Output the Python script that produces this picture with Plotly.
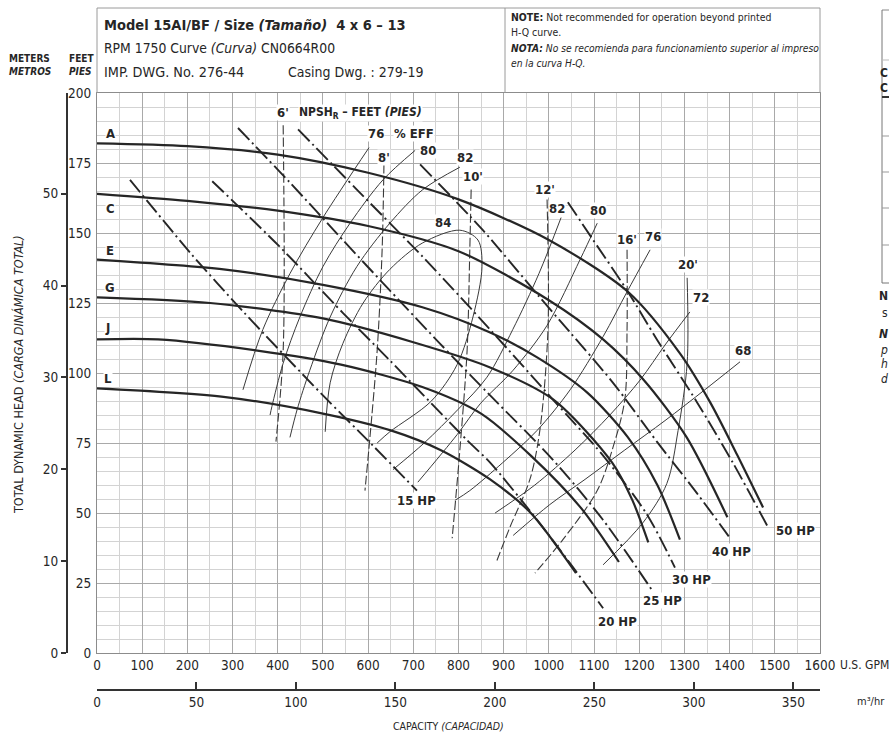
import plotly.graph_objects as go

FONT = "Liberation Sans Narrow, DejaVu Sans Condensed, Arial Narrow, sans-serif"
INK = "#262626"

# ---------------- data (U.S. GPM, feet) ----------------
A_q = [0, 200, 400, 600, 800, 1000, 1175, 1290, 1357, 1416, 1474]
A_h = [182, 181, 178, 171.5, 162, 147.5, 129, 107, 89.5, 71, 52]
C_q = [0, 200, 400, 600, 800, 1000, 1120, 1210, 1305, 1395]
C_h = [164, 161.5, 158, 152.5, 143.5, 126, 112, 97.5, 77, 48.5]
E_q = [0, 280, 500, 720, 870, 975, 1085, 1175, 1240, 1290]
E_h = [140.5, 137, 131.5, 123.5, 114.5, 105.5, 93, 77, 60, 40.5]
G_q = [0, 250, 500, 700, 870, 1010, 1140, 1185, 1220]
G_h = [127, 125, 119.5, 111, 102, 90.5, 68, 54.5, 39.5]
J_q = [0, 135, 355, 540, 720, 850, 960, 1070, 1155]
J_h = [112, 112, 108, 103, 95, 85.5, 70.5, 52, 32.5]
L_q = [0, 280, 500, 650, 760, 870, 960, 1060]
L_h = [94.5, 91.5, 85.5, 79.5, 72.5, 62, 50, 28.5]
impeller_labels = ["A", "C", "E", "G", "J", "L"]
impeller_label_q = [29, 29, 29, 29, 24, 24]
impeller_label_h = [185.7, 158.9, 143.9, 130.7, 116.1, 98.2]

# horsepower lines
HP15_q = [73, 206, 323, 500, 611, 708]
HP15_h = [169, 143, 122, 92, 74, 58]
HP20_q = [255, 405, 544, 648, 819, 870, 974, 1047, 1120]
HP20_h = [168.5, 145, 121.5, 104.5, 76, 68, 47.5, 32, 16]
HP25_q = [312, 427, 544, 648, 759, 870, 1009, 1120, 1228]
HP25_h = [187.5, 168, 147.5, 129.5, 110.5, 92, 69, 47.5, 22.5]
HP30_q = [445, 575, 721, 870, 1009, 1120, 1217, 1279]
HP30_h = [187, 165.5, 141.5, 115.5, 90.5, 70.5, 49.5, 30.5]
HP40_q = [715, 854, 980, 1047, 1142, 1239, 1328, 1401]
HP40_h = [174.5, 151, 127, 114.5, 96.5, 75.5, 57, 41]
HP50_q = [1042, 1098, 1173, 1239, 1328, 1407, 1483]
HP50_h = [161, 147.5, 129.5, 112, 89.5, 68, 45.5]
hp_labels = ["15 HP", "20 HP", "25 HP", "30 HP", "40 HP", "50 HP"]
hp_label_q = [706, 1151, 1252, 1315, 1405, 1545]
hp_label_h = [54.6, 11.1, 18.9, 26.1, 36.1, 43.9]

# efficiency lines (%)
EF76L_q = [602, 500, 427, 367, 323]
EF76L_h = [180.5, 155.5, 135.5, 115.5, 94]
EF80L_q = [704, 633, 560, 500, 449, 412, 387, 383]
EF80L_h = [179.5, 169, 153.5, 138, 120, 103.5, 88, 85]
EF82L_q = [803, 721, 648, 575, 516, 471, 443, 427]
EF82L_h = [173.5, 165.5, 153.5, 138, 120, 101, 87, 77]
EF84_q = [505, 516, 544, 589, 648, 721, 803, 843, 852, 832, 797, 740, 648, 620]
EF84_h = [79, 96.5, 110.5, 125, 137, 146.5, 151, 147.5, 138, 120, 103, 90, 79, 75]
EF82R_q = [1027, 978, 920, 863, 799, 724, 655]
EF82R_h = [155.5, 135.5, 115.5, 98.5, 87, 75, 65.5]
EF80R_q = [1107, 1069, 996, 921, 848, 797, 710]
EF80R_h = [153.5, 140.5, 117, 101, 89, 78, 61]
EF76R_q = [1224, 1173, 1120, 1047, 974, 898, 825, 792]
EF76R_h = [144, 129, 113, 94, 79.5, 68, 58, 54.5]
EF72_q = [1312, 1257, 1202, 1135, 1058, 969, 881]
EF72_h = [121.8, 110, 97.5, 85, 72.5, 60, 50]
EF68_q = [1423, 1345, 1257, 1168, 1080, 1002, 921]
EF68_h = [104, 94, 83, 72.5, 62, 53, 42]
eff_labels = ["76", "80", "82", "84", "82", "80", "76", "72", "68"]
eff_label_q = [617, 732, 814, 766, 1018, 1109, 1230, 1337, 1430]
eff_label_h = [185.7, 179.6, 177.1, 153.6, 158.9, 158.2, 148.6, 126.8, 108.2]

# NPSHr lines (feet)
N6_q = [412, 412, 396]
N6_h = [188.5, 108, 75.5]
N8_q = [635, 631, 620, 604, 593]
N8_h = [174.5, 144, 108, 77, 58]
N10_q = [828, 825, 819, 803, 786]
N10_h = [165.5, 144, 108, 72.5, 41]
N12_q = [996, 998, 980, 958, 914, 885]
N12_h = [162, 115.5, 79.5, 62, 45, 33]
N16_q = [1173, 1173, 1168, 1142, 1107, 1031, 969]
N16_h = [144, 115.5, 90.5, 73.5, 58, 40.5, 28.5]
N20_q = [1306, 1306, 1286, 1261, 1208, 1120]
N20_h = [134, 103.5, 79.5, 60.5, 46.5, 31.5]
npsh_labels = ["6'", "8'", "10'", "12'", "16'", "20'"]
npsh_label_q = [412, 635, 832, 991, 1173, 1308]
npsh_label_h = [192.9, 177.1, 170, 165.4, 147.5, 138.6]

gpm_ticks = list(range(0, 1601, 100))
ft_ticks = list(range(0, 201, 25))
m_ticks = [0, 10, 20, 30, 40, 50]
m3h_ticks = [0, 50, 100, 150, 200, 250, 300, 350]
FT_PER_M = 3.28084
M3H_PER_GPM = 0.22712

# ---------------- layout helpers (pixel -> paper) ----------------
FW, FH = 889, 735


def fx(px):
    return px / FW


def fy(py):
    return (FH - py) / FH


fig = go.Figure()

head = [(A_q, A_h), (C_q, C_h), (E_q, E_h), (G_q, G_h), (J_q, J_h), (L_q, L_h)]
hp = [(HP15_q, HP15_h), (HP20_q, HP20_h), (HP25_q, HP25_h), (HP30_q, HP30_h),
      (HP40_q, HP40_h), (HP50_q, HP50_h)]
eff = [(EF76L_q, EF76L_h), (EF80L_q, EF80L_h), (EF82L_q, EF82L_h), (EF84_q, EF84_h),
       (EF82R_q, EF82R_h), (EF80R_q, EF80R_h), (EF76R_q, EF76R_h), (EF72_q, EF72_h),
       (EF68_q, EF68_h)]
npsh = [(N6_q, N6_h), (N8_q, N8_h), (N10_q, N10_h), (N12_q, N12_h), (N16_q, N16_h)]

for q, h in eff:
    fig.add_trace(go.Scatter(x=q, y=h, mode="lines", hoverinfo="skip", showlegend=False,
                             line=dict(color="#3a3a3a", width=1, shape="spline", smoothing=0.9)))
for q, h in npsh:
    fig.add_trace(go.Scatter(x=q, y=h, mode="lines", hoverinfo="skip", showlegend=False,
                             line=dict(color="#3a3a3a", width=1.1, dash="9px,3px",
                                       shape="spline", smoothing=0.9)))
fig.add_trace(go.Scatter(x=N20_q, y=N20_h, mode="lines", hoverinfo="skip", showlegend=False,
                         line=dict(color="#3a3a3a", width=1, shape="spline", smoothing=0.9)))
for q, h in hp:
    fig.add_trace(go.Scatter(x=q, y=h, mode="lines", hoverinfo="skip", showlegend=False,
                             line=dict(color=INK, width=1.9, dash="16px,4px,2px,4px",
                                       shape="spline", smoothing=0.8)))
for q, h in head:
    fig.add_trace(go.Scatter(x=q, y=h, mode="lines", hoverinfo="skip", showlegend=False,
                             line=dict(color=INK, width=2.2, shape="spline", smoothing=0.8)))

# invisible trace so the metric axes are drawn
fig.add_trace(go.Scatter(x=[0], y=[0], xaxis="x2", yaxis="y2", mode="markers",
                         marker=dict(opacity=0, size=1), hoverinfo="skip", showlegend=False))

ann = []


def lab(q, h, text, size=13, bg="white", xanchor="center"):
    ann.append(dict(x=q, y=h, xref="x", yref="y", text=text, showarrow=False,
                    font=dict(family=FONT, size=size, color=INK), bgcolor=bg,
                    borderpad=0, xanchor=xanchor, yanchor="middle"))


for t, q, h in zip(impeller_labels, impeller_label_q, impeller_label_h):
    lab(q, h, "<b>%s</b>" % t, size=13)
for t, q, h in zip(hp_labels, hp_label_q, hp_label_h):
    lab(q, h, "<b>%s</b>" % t, size=13)
for t, q, h in zip(eff_labels, eff_label_q, eff_label_h):
    lab(q, h, "<b>%s</b>" % t, size=13)
for t, q, h in zip(npsh_labels, npsh_label_q, npsh_label_h):
    lab(q, h, "<b>%s</b>" % t, size=13)
lab(445, 192.9, "<b>NPSH<sub>R</sub> – FEET <i>(PIES)</i></b>", size=12, xanchor="left")
lab(655, 185.7, "<b>% EFF</b>", size=13, xanchor="left")


def ptxt(px, py, text, size, xanchor="left", **kw):
    d = dict(x=fx(px), y=fy(py), xref="paper", yref="paper", text=text, showarrow=False,
             font=dict(family=FONT, size=size, color=INK), xanchor=xanchor,
             yanchor="middle", borderpad=0)
    d.update(kw)
    ann.append(d)


ptxt(103, 25, "<b>Model 15AI/BF / Size <i>(Tamaño)</i>\u00a0 4 x 6 – 13</b>", 14.5)
ptxt(103, 48, "RPM 1750 Curve <i>(Curva)</i> CN0664R00", 13.8)
ptxt(103, 72, "IMP. DWG. No. 276-44", 14.3)
ptxt(287, 72, "Casing Dwg. : 279-19", 14)
ptxt(510, 17, "<b>NOTE:</b> Not recommended for operation beyond printed", 10.4)
ptxt(510, 32, "H-Q curve.", 10.4)
ptxt(510, 48, "<b><i>NOTA:</i></b> <i>No se recomienda para funcionamiento superior al impreso</i>", 10.2)
ptxt(510, 63, "<i>en la curva H-Q.</i>", 10.2)
ptxt(29, 58, "<b>METERS</b>", 10, xanchor="center")
ptxt(30, 72, "<b><i>METROS</i></b>", 10, xanchor="center")
ptxt(81, 58, "<b>FEET</b>", 10, xanchor="center")
ptxt(80, 72, "<b><i>PIES</i></b>", 10, xanchor="center")
ptxt(18, 375, "TOTAL DYNAMIC HEAD <i>(CARGA DINÁMICA TOTAL)</i>", 12.5, xanchor="center",
     textangle=-90)
ptxt(449, 726, "CAPACITY <i>(CAPACIDAD)</i>", 10.5, xanchor="center")
ptxt(839, 665, "U.S. GPM", 12)
ptxt(886, 701, "m³/hr", 11, xanchor="right")
# partially visible neighbouring table at the right edge
for ch, yy, style in [("C", 73, "b"), ("C", 88, "b"), ("N", 296, "b"), ("s", 313, ""),
                      ("N", 334, "bi"), ("p", 350, "i"), ("h", 364, "i"), ("d", 379, "i")]:
    t = ch
    if "i" in style:
        t = "<i>%s</i>" % t
    if "b" in style:
        t = "<b>%s</b>" % t
    ptxt(FW, yy, t, 12, xanchor="right")

shapes = []


def pline(x0, y0, x1, y1, color="#9a9a9a", width=1):
    shapes.append(dict(type="line", xref="paper", yref="paper", x0=fx(x0), y0=fy(y0),
                       x1=fx(x1), y1=fy(y1), line=dict(color=color, width=width)))


pline(97, 8, 820, 8)
pline(97, 8, 97, 93)
pline(820, 8, 820, 93)
pline(505, 8, 505, 93)
pline(882, 10, 889, 10, "#888")
pline(882, 10, 882, 283, "#777")
pline(882, 283, 889, 283, "#777")
pline(882, 60, 889, 60, "#bbb")
pline(882, 97, 889, 97, "#333", 2)
for yy in [136, 172, 208, 245]:
    pline(882, yy, 889, yy, "#999")

axis_font = dict(family=FONT, size=13.5, color=INK)

fig.update_layout(
    width=FW, height=FH,
    margin=dict(l=0, r=0, t=0, b=0, autoexpand=False),
    paper_bgcolor="white", plot_bgcolor="white",
    showlegend=False,
    annotations=ann, shapes=shapes,
    xaxis=dict(domain=[fx(97), fx(820)], range=[0, 1600], tickvals=gpm_ticks,
               ticks="", showgrid=True, gridcolor="#a9a9a9", gridwidth=1,
               minor=dict(dtick=50, showgrid=True, gridcolor="#d3d3d3", gridwidth=1),
               showline=True, linecolor="#8c8c8c", linewidth=1, mirror=True,
               zeroline=False, tickfont=axis_font, ticklabelstandoff=0, automargin=False),
    yaxis=dict(domain=[fy(653), fy(93)], range=[0, 200], tickvals=ft_ticks,
               ticks="", showgrid=True, gridcolor="#a9a9a9", gridwidth=1,
               minor=dict(dtick=5, showgrid=True, gridcolor="#d3d3d3", gridwidth=1),
               showline=True, linecolor="#8c8c8c", linewidth=1, mirror=True,
               zeroline=False, tickfont=axis_font, ticklabelstandoff=2, automargin=False),
    yaxis2=dict(overlaying="y", anchor="free", position=fx(67), side="left",
                range=[0, 200 / FT_PER_M], tickvals=m_ticks, ticks="outside",
                ticklen=5, tickwidth=2, tickcolor="#333", showline=True,
                linecolor="#333", linewidth=2, showgrid=False, zeroline=False,
                tickfont=axis_font, automargin=False),
    xaxis2=dict(overlaying="x", anchor="free", position=fy(690), side="bottom",
                range=[0, 1600 * M3H_PER_GPM], tickvals=m3h_ticks, ticks="inside",
                ticklen=7, tickwidth=2, tickcolor="#333", showline=True,
                linecolor="#333", linewidth=2, showgrid=False, zeroline=False,
                tickfont=axis_font, automargin=False),
)

fig.write_html("out.html")
